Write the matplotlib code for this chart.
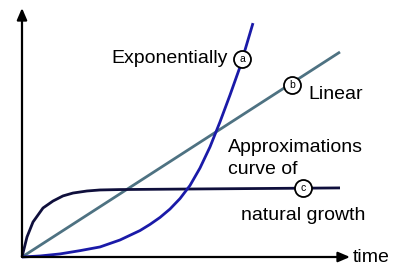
import matplotlib
matplotlib.use("Agg")
import matplotlib.pyplot as plt

# time axis 0..10, value axis in arbitrary units
exp_t = [0.0, 0.566, 1.195, 1.824, 2.453, 3.082, 3.711, 4.025, 4.34, 4.654, 4.969, 5.283,
         5.597, 5.912, 6.226, 6.541, 6.855, 7.264]
exp_v = [0.0, 0.05, 0.15, 0.31, 0.49, 0.83, 1.29, 1.59, 1.93, 2.34, 2.85, 3.49,
         4.34, 5.37, 6.59, 7.90, 9.27, 11.41]

lin_t = [0.0, 10.0]
lin_v = [0.0, 10.0]

nat_t = [0.0, 0.031, 0.157, 0.346, 0.66, 0.975, 1.289, 1.604, 2.044, 2.453, 3.082, 5.597, 10.0]
nat_v = [0.0, 0.195, 0.976, 1.707, 2.39, 2.73, 2.98, 3.12, 3.22, 3.27, 3.29, 3.32, 3.37]

markers = [("a", 6.92, 9.66), ("b", 8.49, 8.39), ("c", 8.84, 3.37)]

W, H = 398, 274
X0, Y0 = 22, 257
SX, SY = 31.8, 20.5


def px(x, y):
    # pixel position in the picture -> data coords
    return (x - X0) / SX, (Y0 - y) / SY


plt.rcParams["font.family"] = ["Liberation Sans", "DejaVu Sans"]

fig = plt.figure(figsize=(W / 100, H / 100), dpi=100)
ax = fig.add_axes([0, 0, 1, 1])
ax.set_xlim(px(0, 0)[0], px(W, 0)[0])
ax.set_ylim(px(0, H)[1], px(0, 0)[1])
ax.axis("off")

# axes with arrows
arrow = dict(arrowstyle="-|>,head_length=0.7,head_width=0.3", color="black", lw=1.6,
             shrinkA=0, shrinkB=0)
ax.annotate("", xy=px(X0, 8), xytext=(0, 0), arrowprops=arrow)
ax.annotate("", xy=px(350, Y0), xytext=(0, 0), arrowprops=arrow)

line_kw = dict(lw=2.0, solid_capstyle="butt", solid_joinstyle="round")
ax.plot(lin_t, lin_v, color="#4e7282", **line_kw)
ax.plot(nat_t, nat_v, color="#0f0f3c", **line_kw)
ax.plot(exp_t, exp_v, color="#1a1aa8", **line_kw)

for lab, t, v in markers:
    ax.scatter([t], [v], s=150, facecolor="white", edgecolor="black", linewidth=1.3, zorder=5)
    ax.text(t, v, lab, ha="center", va="center", fontsize=7.5, zorder=6)

fs = 14
ax.text(*px(228, 62.5), "Exponentially", ha="right", va="baseline", fontsize=fs)
ax.text(*px(308, 99), "Linear", ha="left", va="baseline", fontsize=fs)
ax.text(*px(228, 152), "Approximations", ha="left", va="baseline", fontsize=fs)
ax.text(*px(228, 174), "curve of", ha="left", va="baseline", fontsize=fs)
ax.text(*px(241, 220), "natural growth", ha="left", va="baseline", fontsize=fs)
ax.text(*px(353, 262), "time", ha="left", va="baseline", fontsize=fs)

fig.savefig("out.png", dpi=100)
